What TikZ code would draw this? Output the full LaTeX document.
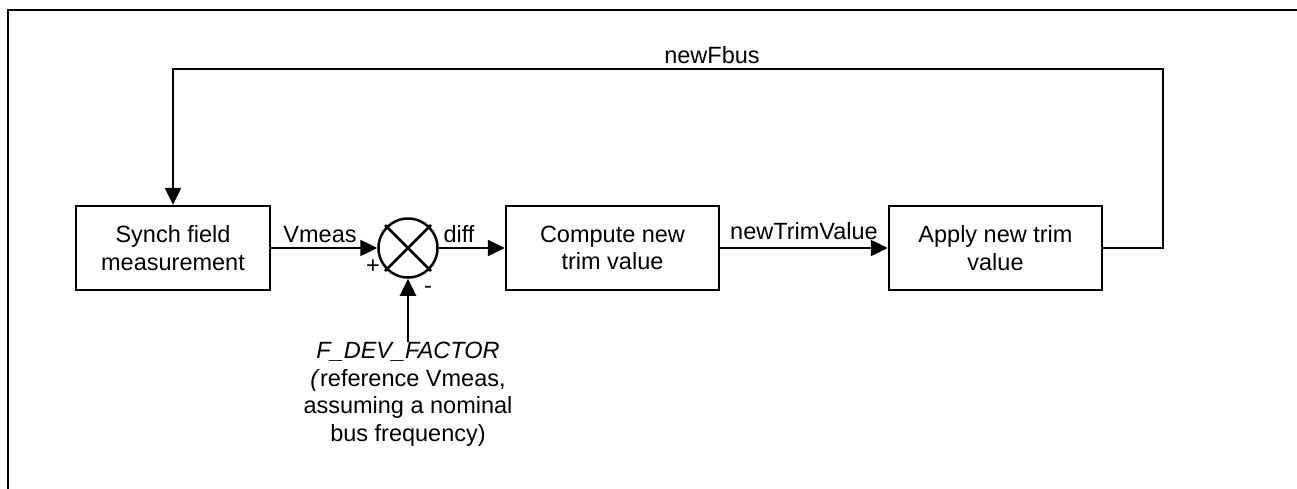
\documentclass[tikz,border=0pt]{standalone}
\usepackage{fontspec}
\setmainfont{Liberation Sans}
\usetikzlibrary{arrows.meta}
\begin{document}
\begin{tikzpicture}[x=1pt,y=-1pt,
  every node/.style={font=\fontsize{23.5}{27.5}\selectfont, inner sep=0pt},
  blk/.style={draw, line width=2.5pt, minimum width=213pt, minimum height=84pt, align=center},
  wire/.style={line width=2.5pt},
  arr/.style={line width=2.5pt, -{Triangle[length=17pt,width=16pt]}},
  lbl/.style={anchor=base}]
\useasboundingbox (0,0) rectangle (1297,488);
% outer frame (only top and left visible)
\draw[line width=2.5pt] (8,500) -- (8,10) -- (1310,10);
% blocks
\node[blk, minimum width=194pt] (sync) at (173,248) {Synch field\\measurement};
\node[blk] (comp) at (612.5,248) {Compute new\\trim value};
\node[blk] (apply) at (995.5,248) {Apply new trim\\value};
% summing junction
\node[draw, circle, line width=2.5pt, minimum size=59pt] (sum) at (408,248) {};
\draw[wire] (385,225) -- (431,271);
\draw[wire] (385,271) -- (431,225);
% connectors
\draw[arr] (sync.east) -- (sum.west);
\draw[arr] (sum.east) -- (comp.west);
\draw[arr] (comp.east) -- (apply.west);
\coordinate (fr) at (1163,248);
\coordinate (fr2) at (1163,69);
\coordinate (fl) at (173,69);
\draw[arr] (apply.east) -- (fr) -- (fr2) -- (fl) -- (sync.north);
% bottom reference input
\node[align=center, anchor=north] (ref) at (408,342)
  {\textit{F\_DEV\_FACTOR}\\\textit{(}reference Vmeas,\\assuming a nominal\\bus frequency)};
\draw[arr] (ref.north) -- (sum.south);
% labels
\node[lbl] (l1) at (712,63) {newFbus};
\node[lbl] (l2) at (320,242) {Vmeas};
\node[lbl] (l3) at (459,242) {diff};
\node[lbl] (l4) at (804,239) {newTrimValue};
\node[lbl] (lp) at (373,273) {+};
\node[lbl] (lm) at (428,293) {-};
\end{tikzpicture}
\end{document}
